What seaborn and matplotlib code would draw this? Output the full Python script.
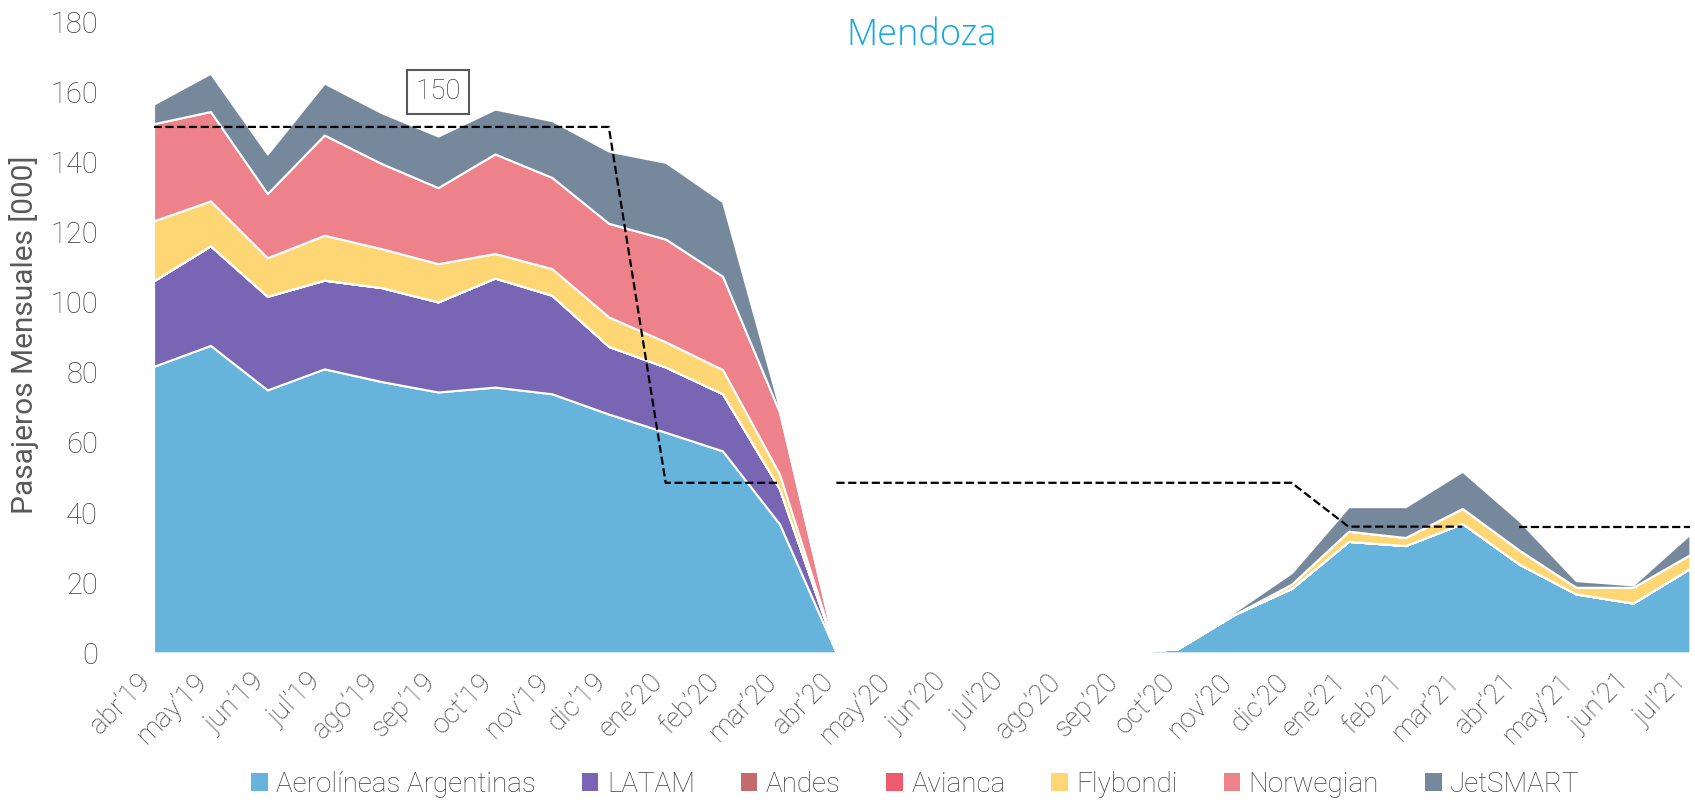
import matplotlib.pyplot as plt
import matplotlib.transforms as mtransforms
import seaborn as sns
from matplotlib.patches import Patch

# Style
sns.set_theme(style="white")
plt.rcParams['font.family'] = ['Roboto', 'DejaVu Sans']
plt.rcParams['font.weight'] = 'light'

# Data (miles de pasajeros mensuales, Mendoza)
months = ["abr’19", "may’19", "jun’19", "jul’19", "ago’19", "sep’19", "oct’19",
          "nov’19", "dic’19", "ene’20", "feb’20", "mar’20", "abr’20", "may’20",
          "jun’20", "jul’20", "ago’20", "sep’20", "oct’20", "nov’20", "dic’20",
          "ene’21", "feb’21", "mar’21", "abr’21", "may’21", "jun’21", "jul’21"]

aerolineas = [81.7, 87.7, 75.0, 81.0, 77.4, 74.4, 75.8, 73.9, 68.1, 62.9, 57.6, 36.8, 0.0, 0.0,
              0.0, 0.0, 0.0, 0.0, 1.2, 11.0, 18.4, 31.8, 30.6, 36.9, 25.3, 16.8, 14.2, 24.1]
latam = [24.4, 28.4, 26.7, 25.3, 26.8, 25.7, 31.1, 28.1, 19.3, 18.6, 16.3, 10.0, 0.0, 0.0,
         0.0, 0.0, 0.0, 0.0, 0.0, 0.0, 0.0, 0.0, 0.0, 0.0, 0.0, 0.0, 0.0, 0.0]
andes = [0.0, 0.0, 0.0, 0.0, 0.0, 0.0, 0.0, 0.0, 0.0, 0.0, 0.0, 0.0, 0.0, 0.0,
         0.0, 0.0, 0.0, 0.0, 0.0, 0.0, 0.0, 0.0, 0.0, 0.0, 0.0, 0.0, 0.0, 0.0]
avianca = [0.0, 0.0, 0.0, 0.0, 0.0, 0.0, 0.0, 0.0, 0.0, 0.0, 0.0, 0.0, 0.0, 0.0,
           0.0, 0.0, 0.0, 0.0, 0.0, 0.0, 0.0, 0.0, 0.0, 0.0, 0.0, 0.0, 0.0, 0.0]
flybondi = [17.1, 12.8, 11.0, 12.8, 11.1, 10.9, 7.0, 7.6, 8.4, 7.2, 6.9, 4.2, 0.0, 0.0,
            0.0, 0.0, 0.0, 0.0, 0.0, 0.0, 1.2, 2.9, 2.3, 4.3, 4.0, 1.9, 4.5, 3.9]
norwegian = [27.7, 25.5, 18.3, 28.6, 24.3, 21.7, 28.4, 26.0, 26.7, 29.3, 26.6, 17.7, 0.0, 0.0,
             0.0, 0.0, 0.0, 0.0, 0.0, 0.0, 0.0, 0.0, 0.0, 0.0, 0.0, 0.0, 0.0, 0.0]
jetsmart = [5.6, 10.9, 11.3, 14.8, 14.5, 14.7, 12.8, 16.2, 20.6, 21.9, 21.3, 1.3, 0.0, 0.0,
            0.0, 0.0, 0.0, 0.0, 0.0, 0.8, 3.3, 7.0, 8.8, 10.6, 8.4, 1.9, 0.7, 5.9]

airlines = ["Aerolíneas Argentinas", "LATAM", "Andes", "Avianca", "Flybondi", "Norwegian", "JetSMART"]
colors = ["#66B3DB", "#7866B5", "#C46A6E", "#EE5B6E", "#FED673", "#EE828A", "#76889C"]

# Promedio de referencia (línea punteada), cortada por período abr-mar
reference = [150, 150, 150, 150, 150, 150, 150, 150, 150, 48.5, 48.5, 48.5, 48.5, 48.5,
             48.5, 48.5, 48.5, 48.5, 48.5, 48.5, 48.5, 36, 36, 36, 36, 36, 36, 36]
ref_segments = [(0, 11), (12, 23), (24, 27)]
ref_label = "150"
ref_label_pos = (5, 160)

y_ticks = [0, 20, 40, 60, 80, 100, 120, 140, 160, 180]

gray = "#3f3f3f"

fig = plt.figure(figsize=(16.95, 8.05), dpi=100)
ax = fig.add_axes([0.0906, 0.189, 0.9064, 0.784])

x = list(range(len(months)))
ax.stackplot(x, aerolineas, latam, andes, avianca, flybondi, norwegian, jetsmart,
             colors=colors, edgecolor="white", linewidth=1.5)

for start, end in ref_segments:
    sns.lineplot(x=x[start:end + 1], y=reference[start:end + 1], ax=ax,
                 color="black", linestyle="--", linewidth=1.6)

ax.text(ref_label_pos[0], ref_label_pos[1], ref_label, ha="center", va="center",
        fontsize=20, color=gray,
        bbox=dict(boxstyle="square,pad=0.3", facecolor="white", edgecolor="#595959", linewidth=1.5))

ax.set_xlim(0, len(months) - 1)
ax.set_ylim(0, 180)
ax.set_yticks(y_ticks)
ax.set_xticks(x)
ax.set_xticklabels(months, rotation=45, ha="right", va="center", rotation_mode="anchor")
ax.tick_params(axis="y", length=0, pad=40, labelsize=21, labelcolor=gray)
ax.tick_params(axis="x", length=0, pad=18, labelsize=20, labelcolor=gray)
# nudge rotated labels a little to the left so the last one stays inside the figure
shift = mtransforms.ScaledTranslation(-0.07, 0, fig.dpi_scale_trans)
for lbl in ax.get_xticklabels():
    lbl.set_transform(lbl.get_transform() + shift)
for spine in ax.spines.values():
    spine.set_visible(False)
ax.grid(False)

fig.text(24 / 1695, 0.584, "Pasajeros Mensuales [000]", rotation=90, ha="center",
         va="center", fontsize=21.5, color="#595959", fontweight="normal")
fig.text(0.544, 0.956, "Mendoza", ha="center", va="center", fontsize=26,
         color="#12A9E2", family=["Open Sans", "DejaVu Sans"], fontweight="light")

handles = [Patch(facecolor=c, edgecolor="none") for c in colors]
fig.legend(handles, airlines, loc="center", bbox_to_anchor=(0.54, 0.026), ncol=7,
           frameon=False, fontsize=20, handlelength=0.6, handleheight=0.6,
           handletextpad=0.3, columnspacing=1.65, labelcolor=gray)

fig.savefig("out.png", dpi=100)
